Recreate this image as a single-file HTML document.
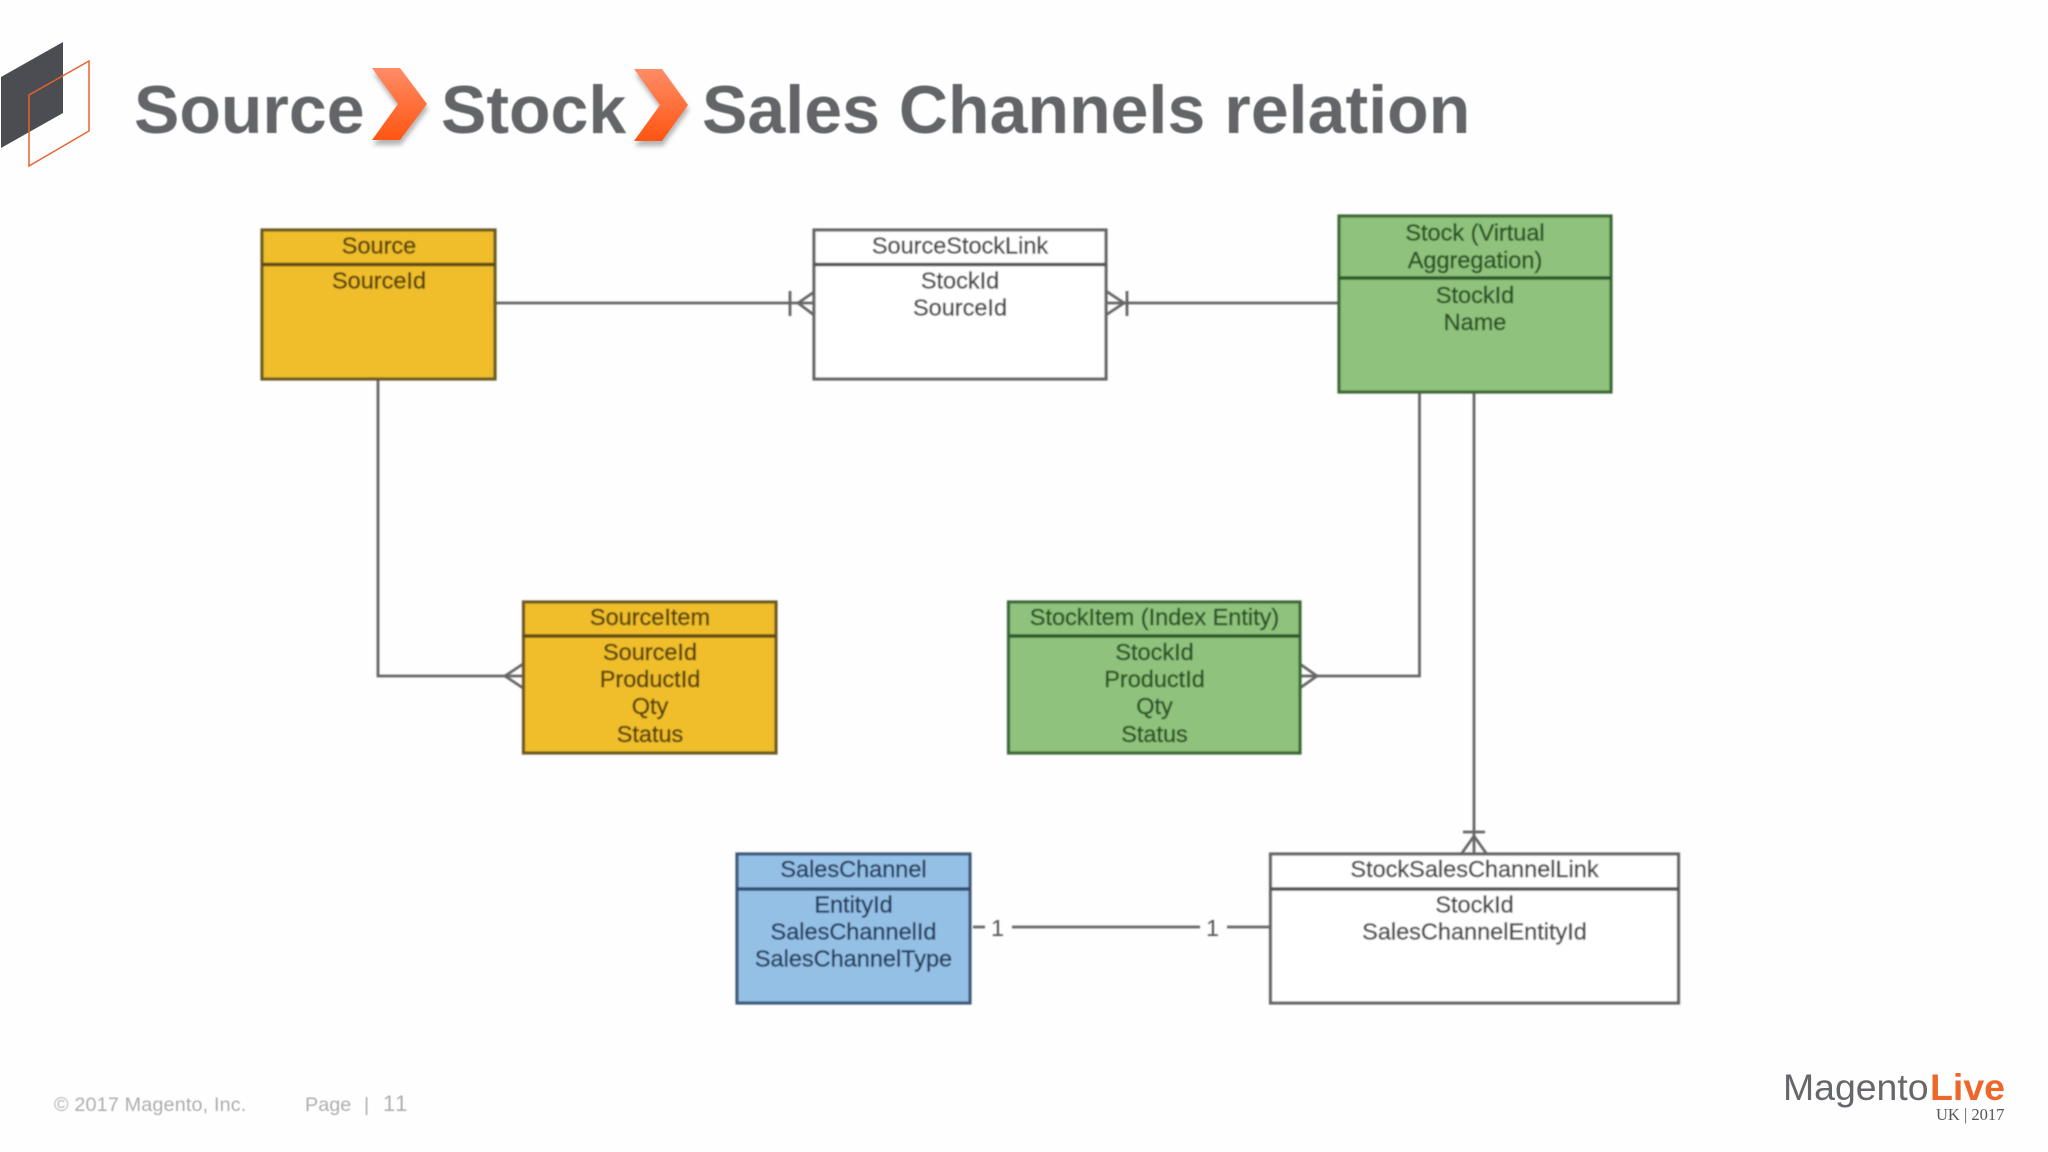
<!DOCTYPE html>
<html>
<head>
<meta charset="utf-8">
<style>
html,body{margin:0;padding:0;background:#fff;width:2048px;height:1152px;overflow:hidden}
svg{display:block}
text{font-family:"Liberation Sans",Arial,sans-serif}
.t{font-size:23.5px;text-anchor:middle;stroke-width:.45px}
</style>
</head>
<body>
<svg width="2048" height="1152" viewBox="0 0 2048 1152" xmlns="http://www.w3.org/2000/svg">
<defs>
<linearGradient id="ch" x1="0" y1="0" x2="0" y2="1">
<stop offset="0" stop-color="#ff8c66"/><stop offset="1" stop-color="#ff5512"/>
</linearGradient>
<filter id="sh" x="-30%" y="-20%" width="160%" height="150%">
<feDropShadow dx="1" dy="5" stdDeviation="2.5" flood-color="#777" flood-opacity=".55"/>
</filter>
<filter id="b" x="-5%" y="-5%" width="110%" height="110%"><feGaussianBlur stdDeviation="0.8"/></filter>
<filter id="s" x="-5%" y="-5%" width="110%" height="110%"><feGaussianBlur stdDeviation="0.4"/></filter>
</defs>
<rect width="2048" height="1152" fill="#fefefe"/>

<!-- logo mark -->
<polygon points="1,77 63,42 63,113 1,148" fill="#4b4d52"/>
<polygon points="29,95 89,61 89,131 29,166" fill="none" stroke="#e8622c" stroke-width="1.5"/>

<!-- title -->
<g font-weight="700" font-size="68" fill="#646567" filter="url(#s)">
<text x="134" y="133">Source</text>
<text x="441" y="133">Stock</text>
<text x="702" y="133" letter-spacing=".05">Sales Channels relation</text>
</g>
<polygon points="372,68 400,68 427,104 400,140 372,140 398,104" fill="url(#ch)" filter="url(#sh)"/>
<polygon points="634,69 662,69 688,105 662,141 634,141 660,105" fill="url(#ch)" filter="url(#sh)"/>

<!-- diagram -->
<g filter="url(#b)">
<!-- connectors -->
<g fill="none" stroke="#666" stroke-width="2.800">
<path d="M495 303H814"/>
<path d="M790 291V316M814 292L798 303L814 315"/>
<path d="M1106 303H1339"/>
<path d="M1127 291V316M1106 291L1124 303L1106 315"/>
<path d="M378 379V676H523"/>
<path d="M523 664L505 676L523 688"/>
<path d="M1419.500 392V676H1300"/>
<path d="M1300 664L1317 676L1300 688"/>
<path d="M1474 392V853"/>
<path d="M1463 832H1485M1462 853L1474 836L1486 853"/>
<path d="M973 927H985M1012 927H1200M1227 927H1270"/>
</g>

<!-- Source -->
<rect x="262" y="230" width="233" height="149" fill="#efbe2c" stroke="#6d5a28" stroke-width="3.200"/>
<path d="M262 264.500H495" stroke="#5f4a12" stroke-width="3.500"/>
<g fill="#5a430f" stroke="#5a430f">
<text class="t" x="379" y="253.500">Source</text>
<text class="t" x="379" y="288.500">SourceId</text>
</g>

<!-- SourceStockLink -->
<rect x="814" y="230" width="292" height="149" fill="#fff" stroke="#666" stroke-width="3.200"/>
<path d="M814 264.500H1106" stroke="#555" stroke-width="3.500"/>
<g fill="#4a4a4a" stroke="#4a4a4a">
<text class="t" x="960" y="253.500">SourceStockLink</text>
<text class="t" x="960" y="288.500">StockId</text>
<text class="t" x="960" y="315.500">SourceId</text>
</g>

<!-- Stock -->
<rect x="1339" y="216" width="272" height="176" fill="#8fc27b" stroke="#3e6a38" stroke-width="3.200"/>
<path d="M1339 278H1611" stroke="#2f5a2a" stroke-width="3.500"/>
<g fill="#2a5426" stroke="#2a5426">
<text class="t" x="1475" y="240.500">Stock (Virtual</text>
<text class="t" x="1475" y="268">Aggregation)</text>
<text class="t" x="1475" y="303">StockId</text>
<text class="t" x="1475" y="330">Name</text>
</g>

<!-- SourceItem -->
<rect x="523.500" y="602" width="252.500" height="151" fill="#efbe2c" stroke="#6d5a28" stroke-width="3.200"/>
<path d="M523.500 636H776" stroke="#5f4a12" stroke-width="3.500"/>
<g fill="#5a430f" stroke="#5a430f">
<text class="t" x="650" y="625">SourceItem</text>
<text class="t" x="650" y="660">SourceId</text>
<text class="t" x="650" y="687">ProductId</text>
<text class="t" x="650" y="714">Qty</text>
<text class="t" x="650" y="742">Status</text>
</g>

<!-- StockItem -->
<rect x="1008.500" y="602" width="291.500" height="151" fill="#8fc27b" stroke="#3e6a38" stroke-width="3.200"/>
<path d="M1008.500 636H1300" stroke="#2f5a2a" stroke-width="3.500"/>
<g fill="#2a5426" stroke="#2a5426">
<text class="t" x="1154.500" y="625">StockItem (Index Entity)</text>
<text class="t" x="1154.500" y="660">StockId</text>
<text class="t" x="1154.500" y="687">ProductId</text>
<text class="t" x="1154.500" y="714">Qty</text>
<text class="t" x="1154.500" y="742">Status</text>
</g>

<!-- SalesChannel -->
<rect x="737" y="854" width="233" height="149" fill="#95c0e6" stroke="#3c5a7a" stroke-width="3.200"/>
<path d="M737 889H970" stroke="#2f4e70" stroke-width="3.500"/>
<g fill="#24405f" stroke="#24405f">
<text class="t" x="853.500" y="877">SalesChannel</text>
<text class="t" x="853.500" y="912.500">EntityId</text>
<text class="t" x="853.500" y="939.500">SalesChannelId</text>
<text class="t" x="853.500" y="966.500">SalesChannelType</text>
</g>

<!-- StockSalesChannelLink -->
<rect x="1270.500" y="854" width="408" height="149" fill="#fff" stroke="#666" stroke-width="3.200"/>
<path d="M1270.500 889H1678.500" stroke="#555" stroke-width="3.500"/>
<g fill="#4a4a4a" stroke="#4a4a4a">
<text class="t" x="1474.500" y="877">StockSalesChannelLink</text>
<text class="t" x="1474.500" y="912.500">StockId</text>
<text class="t" x="1474.500" y="939.500">SalesChannelEntityId</text>
</g>

<!-- cardinality -->
<g fill="#555">
<text class="t" x="997.500" y="936">1</text>
<text class="t" x="1212.500" y="936">1</text>
</g>
</g>

<!-- footer -->
<g font-size="19.800" fill="#aeaeae" filter="url(#s)">
<text x="54" y="1111" letter-spacing=".15">© 2017 Magento, Inc.</text>
<text x="305" y="1111">Page</text>
<text x="364" y="1111">|</text>
<text x="383" y="1111" font-size="22" letter-spacing="1.500">11</text>
</g>

<!-- brand -->
<text x="1783" y="1100" font-size="37.400" fill="#66676c">Magento</text>
<text x="1930" y="1100" font-size="37.500" font-weight="700" fill="#ee672a">Live</text>
<text x="1936" y="1120" font-size="16.500" fill="#555" style="font-family:'Liberation Serif',serif">UK | 2017</text>
</svg>
</body>
</html>
